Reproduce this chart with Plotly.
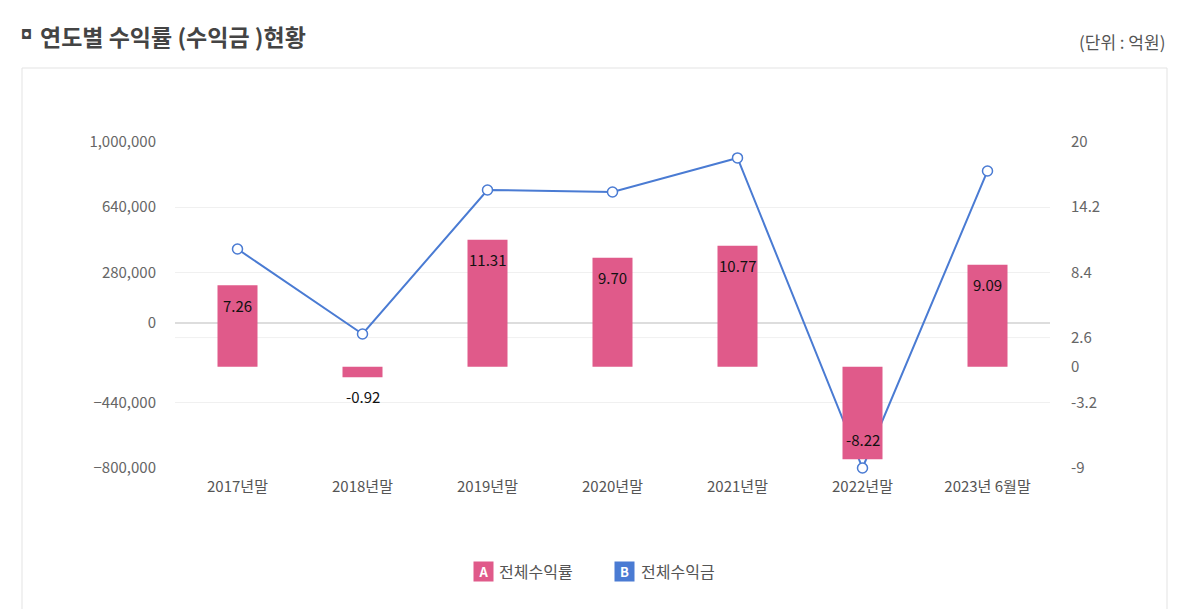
import plotly.graph_objects as go

categories = ["2017년말", "2018년말", "2019년말", "2020년말", "2021년말", "2022년말", "2023년 6월말"]
return_rate = [7.26, -0.92, 11.31, 9.70, 10.77, -8.22, 9.09]
profit = [409000, -60000, 735000, 724000, 912000, -800000, 840000]

left_ticks = [-800000, -440000, 0, 280000, 640000, 1000000]
right_ticks = [-9, -3.2, 0, 2.6, 8.4, 14.2, 20]
right_ticktext = ["-9", "-3.2", "0", "2.6", "8.4", "14.2", "20"]

FONT = "Noto Sans CJK KR"
PINK = "#E05A8A"
BLUE = "#4A7BD3"

fig = go.Figure()
fig.add_trace(go.Bar(
    x=categories, y=return_rate, yaxis="y2", name="전체수익률",
    marker=dict(color=PINK, line=dict(width=0)), width=0.32,
    cliponaxis=False,
))
fig.add_trace(go.Scatter(
    x=categories, y=profit, yaxis="y", name="전체수익금", mode="lines+markers",
    line=dict(color=BLUE, width=2),
    marker=dict(size=10, color="white", line=dict(color=BLUE, width=1.5)),
    cliponaxis=False,
))

# border box and right 2.6 grid line
fig.add_shape(type="rect", xref="paper", yref="paper",
              x0=(22 - 175) / 875, x1=(1167 - 175) / 875,
              y0=(468 - 640) / 326, y1=(468 - 68) / 326,
              line=dict(color="#E3E3E3", width=1), fillcolor="rgba(0,0,0,0)", layer="below")
fig.add_shape(type="line", xref="paper", yref="y2", x0=0, x1=1, y0=2.6, y1=2.6,
              line=dict(color="#F0F0F0", width=1), layer="below")

annotations = [
    dict(text="<b>◘</b>", x=(26 - 175) / 875, y=(468 - 35) / 326, xref="paper", yref="paper",
         showarrow=False, xanchor="center", yanchor="middle", font=dict(size=13, color="#444", family="DejaVu Sans")),
    dict(text="<b>연도별 수익률 (수익금 )현황</b>", x=(38 - 175) / 875, y=(468 - 36) / 326,
         xref="paper", yref="paper", showarrow=False, xanchor="left", yanchor="middle",
         font=dict(size=23, color="#444", family=FONT)),
    dict(text="(단위 : 억원)", x=(1167 - 175) / 875, y=(468 - 41) / 326,
         xref="paper", yref="paper", showarrow=False, xanchor="right", yanchor="middle",
         font=dict(size=17, color="#555", family=FONT)),
    dict(text="<b>A</b>", x=(483 - 175) / 875, y=(468 - 571) / 326, xref="paper", yref="paper",
         showarrow=False, xanchor="center", yanchor="middle", width=19, height=19,
         bgcolor=PINK, borderpad=0, font=dict(size=13, color="white", family=FONT)),
    dict(text="전체수익률", x=(497 - 175) / 875, y=(468 - 571) / 326, xref="paper", yref="paper",
         showarrow=False, xanchor="left", yanchor="middle", font=dict(size=16, color="#555", family=FONT)),
    dict(text="<b>B</b>", x=(624 - 175) / 875, y=(468 - 571) / 326, xref="paper", yref="paper",
         showarrow=False, xanchor="center", yanchor="middle", width=19, height=19,
         bgcolor=BLUE, borderpad=0, font=dict(size=13, color="white", family=FONT)),
    dict(text="전체수익금", x=(639 - 175) / 875, y=(468 - 571) / 326, xref="paper", yref="paper",
         showarrow=False, xanchor="left", yanchor="middle", font=dict(size=16, color="#555", family=FONT)),
]

# bar value labels: inside near the bar end for tall bars, outside for short ones
for cat, v in zip(categories, return_rate):
    if abs(v) > 2:
        shift = -20 if v > 0 else 20
    else:
        shift = 19 if v > 0 else -19
    annotations.append(dict(text=f"{v:.2f}", x=cat, y=v, xref="x", yref="y2",
                            showarrow=False, xanchor="center", yanchor="middle", yshift=shift,
                            font=dict(size=15, color="#111", family=FONT)))

fig.update_layout(
    width=1200, height=609,
    margin=dict(l=175, r=150, t=142, b=141),
    paper_bgcolor="white", plot_bgcolor="white",
    showlegend=False,
    font=dict(family=FONT, color="#666", size=15),
    annotations=annotations,
    xaxis=dict(showline=False, showgrid=False, ticks="", tickfont=dict(size=15, color="#555"),
               ticklabelstandoff=8),
    yaxis=dict(range=[-800000, 1000000], tickvals=left_ticks, tickformat=",d",
               showgrid=True, gridcolor="#F0F0F0", gridwidth=1,
               zeroline=True, zerolinecolor="#DDDDDD", zerolinewidth=2,
               showline=False, ticks="", ticklabelstandoff=18,
               tickfont=dict(size=15, color="#666")),
    yaxis2=dict(range=[-9, 20], tickvals=right_ticks, ticktext=right_ticktext,
                overlaying="y", side="right", showgrid=False, zeroline=False,
                showline=False, ticks="", ticklabelstandoff=20,
                tickfont=dict(size=15, color="#666")),
    bargap=0.68,
)

fig.write_html("out.html")
